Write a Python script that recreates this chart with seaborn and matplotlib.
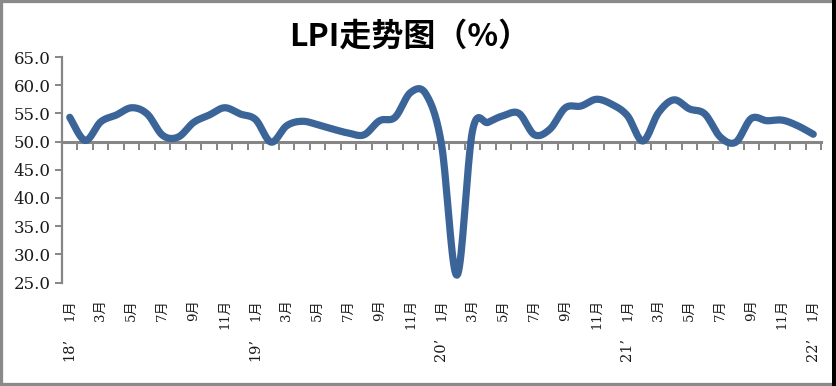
import numpy as np
import pandas as pd
import matplotlib
matplotlib.use("Agg")
import matplotlib.pyplot as plt
import matplotlib.transforms as mtransforms
from matplotlib.patches import Rectangle
import seaborn as sns

# ---- data ----
title = "LPI走势图（%）"
lpi = [54.3, 50.2, 53.5, 54.7, 56.0, 54.9, 51.1, 50.8, 53.4, 54.7, 56.0, 54.9,   # 2018
       53.9, 49.9, 52.8, 53.6, 53.0, 52.2, 51.5, 51.2, 53.7, 54.3, 58.7, 58.4,   # 2019
       49.5, 26.3, 51.9, 53.4, 54.6, 55.0, 51.2, 52.2, 56.0, 56.3, 57.5, 56.6,   # 2020
       54.6, 50.1, 55.1, 57.4, 55.8, 54.9, 50.8, 49.9, 54.1, 53.7, 53.8, 52.8,   # 2021
       51.3]                                                                     # 2022
month_labels = ["1月", "3月", "5月", "7月", "9月", "11月"]
year_labels = ["18’", "19’", "20’", "21’", "22’"]
y_ticks = [25, 30, 35, 40, 45, 50, 55, 60, 65]

# ---- style ----
sns.set_theme(style="white")
plt.rcParams["font.family"] = ["DejaVu Serif", "Noto Sans CJK SC"]

W, H = 836, 386
fig = plt.figure(figsize=(W / 100, H / 100), dpi=100)
ax = fig.add_axes([62 / W, 1 - 282.5 / H, (821 - 62) / W, (282.5 - 57) / H])
ax.set_facecolor("white")

# Excel-like smoothed line (Catmull-Rom through the data points)
y = np.asarray(lpi, dtype=float)
n = len(y)
x = np.arange(n, dtype=float)
px = np.concatenate([[x[0]], x, [x[-1]]])
py = np.concatenate([[y[0]], y, [y[-1]]])
t = np.linspace(0, 1, 20)[:-1]
xs, ys = [], []
for i in range(n - 1):
    p0x, p1x, p2x, p3x = px[i], px[i + 1], px[i + 2], px[i + 3]
    p0y, p1y, p2y, p3y = py[i], py[i + 1], py[i + 2], py[i + 3]
    c1x, c1y = p1x + (p2x - p0x) / 6, p1y + (p2y - p0y) / 6
    c2x, c2y = p2x - (p3x - p1x) / 6, p2y - (p3y - p1y) / 6
    b = [(1 - t) ** 3, 3 * (1 - t) ** 2 * t, 3 * (1 - t) * t ** 2, t ** 3]
    xs.append(b[0] * p1x + b[1] * c1x + b[2] * c2x + b[3] * p2x)
    ys.append(b[0] * p1y + b[1] * c1y + b[2] * c2y + b[3] * p2y)
xs.append([x[-1]]); ys.append([y[-1]])
df = pd.DataFrame({"x": np.concatenate(xs), "y": np.concatenate(ys)})
sns.lineplot(data=df, x="x", y="y", sort=False, estimator=None, ax=ax,
             color="#3B6598", linewidth=5.2, solid_capstyle="round", zorder=3)

# axes ranges
ax.set_xlim(-0.5, n - 0.5)
ax.set_ylim(25, 65)
ax.set_xlabel("")
ax.set_ylabel("")

axis_gray = "#868686"
for s in ["top", "right", "bottom"]:
    ax.spines[s].set_visible(False)
ax.spines["left"].set_color(axis_gray)
ax.spines["left"].set_linewidth(1.6)

ax.set_yticks(y_ticks)
ax.set_yticklabels([f"{v:.1f}" for v in y_ticks], fontsize=12, color="#1a1a1a")
ax.tick_params(axis="y", direction="out", length=5, width=1.4, color=axis_gray, pad=3, left=True)

# month labels at bottom
pos = list(range(0, n, 2))
labs = [month_labels[(p % 12) // 2] for p in pos]
ax.set_xticks(pos)
ax.set_xticklabels(labs, rotation=90, fontsize=9.5, color="#1a1a1a", va="top", ha="center")
ax.tick_params(axis="x", length=0, pad=12, bottom=True)

# year labels
trans = mtransforms.blended_transform_factory(ax.transData, ax.transAxes)
for k, yl in enumerate(year_labels):
    ax.text(k * 12, -0.245, yl, transform=trans, rotation=90, fontsize=10.5,
            ha="center", va="top", color="#1a1a1a")

# category axis crossing at 50 with boundary ticks
sec = ax.secondary_xaxis((50 - 25) / 40)
sec.set_alignment("bottom")
sec.set_xticks(np.arange(-0.5, n, 1.0))
sec.set_xticklabels([])
sec.tick_params(axis="x", direction="out", length=6, width=1.4, color=axis_gray,
                bottom=True, top=False, labelbottom=False, labeltop=False)
sec.spines["bottom"].set_visible(True)
sec.spines["bottom"].set_color(axis_gray)
sec.spines["bottom"].set_linewidth(2.2)
sec.spines["top"].set_visible(False)

# title
fig.text(0.49, 1 - 37 / H, title, fontsize=23, fontweight="bold", ha="center", va="center",
         family=["Noto Sans CJK SC", "DejaVu Sans"], color="black")

# image frame
fig.patches.append(Rectangle((0, 0), 1, 1, transform=fig.transFigure, fill=False,
                             edgecolor="#8a8a8a", linewidth=4.5))
fig.patches.append(Rectangle((832 / W, 0), 4 / W, 1, transform=fig.transFigure,
                             facecolor="black", edgecolor="none"))

fig.savefig("out.png", dpi=100, facecolor="white")
